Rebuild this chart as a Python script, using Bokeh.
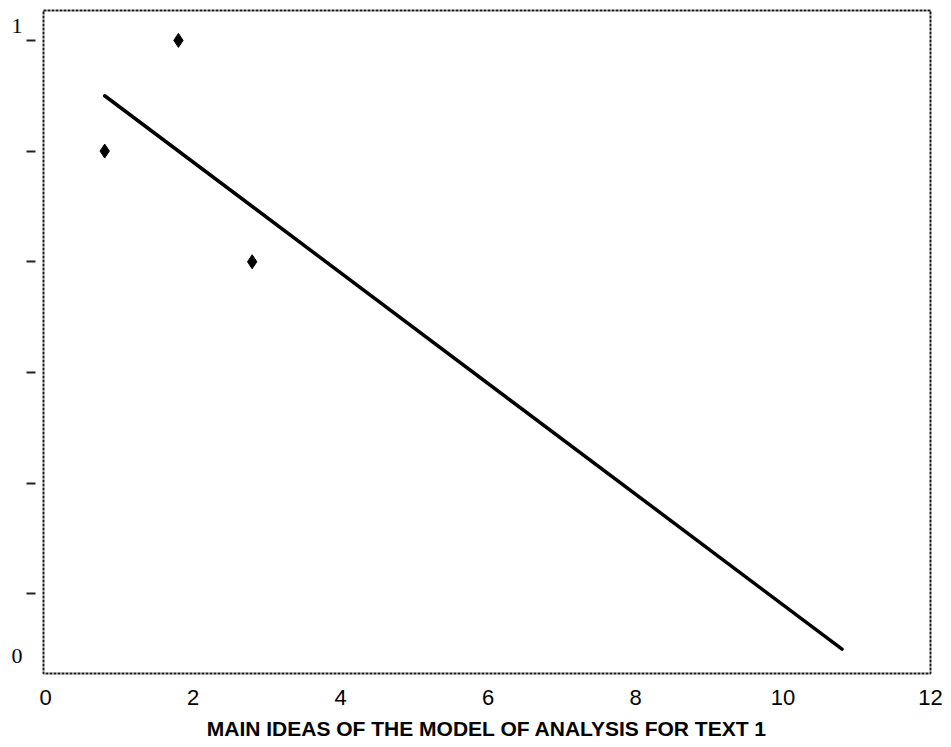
from bokeh.plotting import figure
from bokeh.models import Range1d, FixedTicker, LinearAxis
from bokeh.embed import file_html
from bokeh.resources import INLINE

# Data
point_x = [0.8, 1.8, 2.8]
point_y = [0.9, 1.0, 0.8]
fit_x = [0.8, 10.8]
fit_y = [0.95, 0.45]

x_ticks = [0, 2, 4, 6, 8, 10, 12]
y_ticks = [0.5, 0.6, 0.7, 0.8, 0.9, 1.0]
y_label_pos = [1.013, 0.4436]
y_label_text = ["1", "0"]
x_title = "MAIN IDEAS OF THE MODEL OF ANALYSIS FOR TEXT 1"

p = figure(width=951, height=747, output_backend="svg", toolbar_location=None,
           x_range=Range1d(-0.03, 12.0), y_range=Range1d(0.428, 1.027),
           min_border_left=43, min_border_right=21, min_border_top=10, min_border_bottom=74)
p.background_fill_color = "white"
p.border_fill_color = "white"
p.xgrid.visible = False
p.ygrid.visible = False
p.outline_line_color = "#1a1a1a"
p.outline_line_width = 2
p.outline_line_dash = "3 1"

# x axis
xa = p.xaxis[0]
xa.ticker = FixedTicker(ticks=x_ticks)
xa.major_tick_line_color = None
xa.minor_tick_line_color = None
xa.axis_line_color = None
xa.major_label_text_font = "Liberation Sans"
xa.major_label_text_font_size = "22px"
xa.major_label_text_color = "black"
xa.major_label_standoff = 10
xa.axis_label = x_title
xa.axis_label_text_font = "Liberation Sans"
xa.axis_label_text_font_style = "bold"
xa.axis_label_text_font_size = "21px"
xa.axis_label_text_color = "black"
xa.axis_label_standoff = 9

# y axis: ticks only, detached from the frame
ya = p.yaxis[0]
ya.ticker = FixedTicker(ticks=y_ticks)
ya.major_label_overrides = {t: "" for t in y_ticks}
ya.major_label_text_font_size = "1px"
ya.major_label_standoff = 0
ya.minor_tick_line_color = None
ya.axis_line_color = None
ya.major_tick_line_color = "#222222"
ya.major_tick_line_width = 2
ya.major_tick_in = -8
ya.major_tick_out = 17

# second left axis carrying the two visible labels
ya2 = LinearAxis(ticker=FixedTicker(ticks=y_label_pos),
                 major_label_overrides=dict(zip(y_label_pos, y_label_text)))
ya2.axis_line_color = None
ya2.major_tick_line_color = None
ya2.minor_tick_line_color = None
ya2.major_tick_in = 0
ya2.major_tick_out = 0
ya2.major_label_standoff = 4
ya2.major_label_text_font = "Liberation Serif"
ya2.major_label_text_font_size = "22px"
ya2.major_label_text_color = "black"
p.add_layout(ya2, "left")

# Regression line and points
p.line(fit_x, fit_y, line_color="black", line_width=3.5, line_cap="round")
p.scatter(point_x, point_y, marker="diamond", size=14, color="black")

open("out.html", "w").write(file_html(p, INLINE))
